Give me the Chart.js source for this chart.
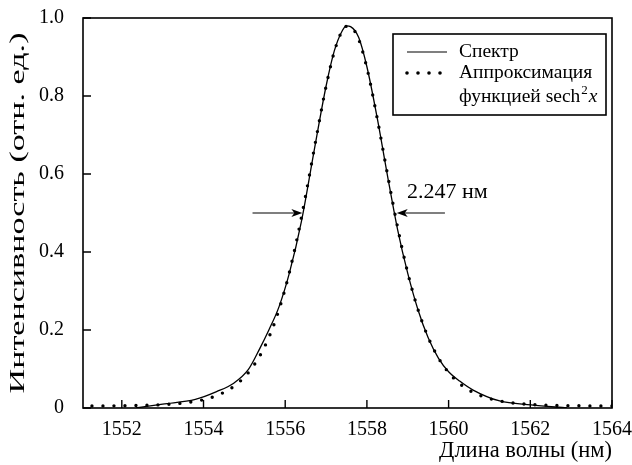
<!DOCTYPE html>
<html>
<head>
<meta charset="utf-8">
<script src="https://cdn.jsdelivr.net/npm/chart.js@4/dist/chart.umd.min.js"></script>
<style>
	html, body { margin: 0; padding: 0; background: #fff; }
</style>
</head>
<body>
<canvas id="spectrumChart" width="632" height="465"></canvas>
<script>
// measured spectrum (solid line)
const spectrumX = [1552.35, 1553.0, 1553.8, 1554.32, 1554.73, 1555.1, 1555.38, 1555.6, 1555.85, 1556.1, 1556.4, 1556.7, 1557.0, 1557.2, 1557.4, 1557.5, 1557.6, 1557.8, 1558.0, 1558.25, 1558.5, 1558.75, 1559.0, 1559.25, 1559.5, 1559.75, 1560.0, 1560.27, 1560.6, 1561.25, 1562.02, 1562.9];
const spectrumY = [0.0, 0.010, 0.022, 0.042, 0.063, 0.099, 0.153, 0.200, 0.260, 0.345, 0.480, 0.655, 0.825, 0.915, 0.968, 0.980, 0.978, 0.950, 0.875, 0.745, 0.598, 0.458, 0.345, 0.252, 0.180, 0.128, 0.093, 0.069, 0.046, 0.018, 0.008, 0.0];

// sech^2 approximation (dotted line)
const fitX = [1551.0, 1551.25, 1551.5, 1551.75, 1552.0, 1552.25, 1552.5, 1552.75, 1553.0, 1553.25, 1553.5, 1553.75, 1554.0, 1554.25, 1554.5, 1554.75, 1555.0, 1555.25, 1555.5, 1555.75, 1556.0, 1556.25, 1556.5, 1556.75, 1557.0, 1557.25, 1557.5, 1557.75, 1558.0, 1558.25, 1558.5, 1558.75, 1559.0, 1559.25, 1559.5, 1559.75, 1560.0, 1560.25, 1560.5, 1560.75, 1561.0, 1561.25, 1561.5, 1561.75, 1562.0, 1562.25, 1562.5, 1562.75, 1563.0, 1563.25, 1563.5, 1563.75, 1564.0];
const fitY = [0.0052, 0.0052, 0.0054, 0.0055, 0.0058, 0.0061, 0.0066, 0.0074, 0.0086, 0.0102, 0.0127, 0.0162, 0.0214, 0.0290, 0.0401, 0.0561, 0.0791, 0.1121, 0.1581, 0.2214, 0.3063, 0.4145, 0.5445, 0.6872, 0.8244, 0.9299, 0.9786, 0.9573, 0.8720, 0.7441, 0.6009, 0.4641, 0.3467, 0.2527, 0.1812, 0.1286, 0.0910, 0.0644, 0.0458, 0.0330, 0.0241, 0.0181, 0.0139, 0.0111, 0.0091, 0.0078, 0.0069, 0.0063, 0.0059, 0.0056, 0.0054, 0.0053, 0.0052];

const xTicks = [1552, 1554, 1556, 1558, 1560, 1562, 1564];
const yTicks = [0, 0.2, 0.4, 0.6, 0.8, 1.0];

const yTitle = "Интенсивность (отн. ед.)";

// FWHM marker: arrows at half maximum
const fwhmY = 0.5;
const fwhmLeft = [1555.2, 1556.42];
const fwhmRight = [1559.91, 1558.73];
const fwhmText = "2.247 нм";
const fwhmTextPos = [1558.98, 0.554];

const FONT = '"Liberation Serif", serif';

function arrow(ctx, x1, x2, y) {
	const dir = x2 > x1 ? 1 : -1;
	ctx.beginPath();
	ctx.moveTo(x1, y);
	ctx.lineTo(x2 - dir * 6, y);
	ctx.stroke();
	ctx.beginPath();
	ctx.moveTo(x2, y);
	ctx.lineTo(x2 - dir * 11, y - 4);
	ctx.lineTo(x2 - dir * 8, y);
	ctx.lineTo(x2 - dir * 11, y + 4);
	ctx.closePath();
	ctx.fill();
}

const decorPlugin = {
	id: "decor",
	afterDraw(chart) {
		const ctx = chart.ctx;
		const a = chart.chartArea;
		const xs = chart.scales.x;
		const ys = chart.scales.y;
		ctx.save();
		ctx.strokeStyle = "#000";
		ctx.fillStyle = "#000";

		// frame
		ctx.lineWidth = 1.6;
		ctx.strokeRect(a.left, a.top, a.right - a.left, a.bottom - a.top);

		// inner ticks
		ctx.lineWidth = 1.4;
		ctx.beginPath();
		xTicks.forEach(function (v) {
			const px = xs.getPixelForValue(v);
			ctx.moveTo(px, a.bottom);
			ctx.lineTo(px, a.bottom - 8);
		});
		yTicks.forEach(function (v) {
			const py = ys.getPixelForValue(v);
			ctx.moveTo(a.left, py);
			ctx.lineTo(a.left + 8, py);
		});
		ctx.stroke();

		// y axis title, stretched along the axis like the original
		ctx.save();
		ctx.translate(18, (a.top + a.bottom) / 2);
		ctx.rotate(-Math.PI / 2);
		ctx.scale(1.55, 1);
		ctx.font = "22px " + FONT;
		ctx.textAlign = "center";
		ctx.textBaseline = "middle";
		ctx.fillText(yTitle, 0, 0);
		ctx.restore();

		// FWHM arrows and label
		ctx.lineWidth = 1.2;
		const py = ys.getPixelForValue(fwhmY);
		arrow(ctx, xs.getPixelForValue(fwhmLeft[0]), xs.getPixelForValue(fwhmLeft[1]), py);
		arrow(ctx, xs.getPixelForValue(fwhmRight[0]), xs.getPixelForValue(fwhmRight[1]), py);
		ctx.font = "22px " + FONT;
		ctx.textBaseline = "middle";
		ctx.textAlign = "left";
		ctx.fillText(fwhmText, xs.getPixelForValue(fwhmTextPos[0]), ys.getPixelForValue(fwhmTextPos[1]));

		// legend
		const bx = a.right - 219, by = a.top + 16, bw = 213, bh = 81;
		ctx.fillStyle = "#fff";
		ctx.fillRect(bx, by, bw, bh);
		ctx.fillStyle = "#000";
		ctx.lineWidth = 1.6;
		ctx.strokeRect(bx, by, bw, bh);
		ctx.lineWidth = 1.2;
		ctx.beginPath();
		ctx.moveTo(bx + 14, by + 18);
		ctx.lineTo(bx + 54, by + 18);
		ctx.stroke();
		[14, 25, 36, 47].forEach(function (dx) {
			ctx.beginPath();
			ctx.arc(bx + dx, by + 39, 1.8, 0, Math.PI * 2);
			ctx.fill();
		});
		ctx.font = "19.5px " + FONT;
		const tx = bx + 66;
		ctx.fillText(chart.data.datasets[0].label, tx, by + 18);
		ctx.fillText(chart.data.datasets[1].label, tx, by + 39);
		const l3 = "функцией sech";
		ctx.fillText(l3, tx, by + 63);
		let w = ctx.measureText(l3).width;
		ctx.font = "13px " + FONT;
		ctx.fillText("2", tx + w + 1, by + 57);
		w += ctx.measureText("2").width + 2;
		ctx.font = "italic 19.5px " + FONT;
		ctx.fillText("x", tx + w, by + 63);
		ctx.restore();
	},
};

function drawChart() {
	const ctx = document.getElementById("spectrumChart").getContext("2d");

	new Chart(ctx, {
		type: "line",
		data: {
			datasets: [
				{
					label: "Спектр",
					data: spectrumX.map((x, i) => ({ x: x, y: spectrumY[i] })),
					borderColor: "#000",
					borderWidth: 1.3,
					pointRadius: 0,
					cubicInterpolationMode: "monotone",
				},
				{
					label: "Аппроксимация",
					data: fitX.map((x, i) => ({ x: x, y: fitY[i] })),
					borderColor: "#000",
					borderWidth: 3.4,
					borderDash: [0, 11],
					borderCapStyle: "round",
					pointRadius: 0,
					cubicInterpolationMode: "monotone",
				},
			],
		},
		options: {
			responsive: false,
			animation: false,
			layout: { padding: { left: 0, right: 20, top: 18, bottom: 0 } },
			plugins: {
				legend: { display: false },
				tooltip: { enabled: false },
			},
			scales: {
				x: {
					type: "linear",
					min: 1551.05,
					max: 1564,
					afterBuildTicks: (s) => { s.ticks = xTicks.map((v) => ({ value: v })); },
					afterFit: (s) => {
						s.height = 57;
						s.paddingLeft = 0;
						s.paddingRight = 0;
					},
					grid: { display: false },
					border: { display: false },
					ticks: {
						color: "#000",
						padding: 2,
						maxRotation: 0,
						font: { family: FONT, size: 20 },
						callback: (v) => String(v),
					},
					title: {
						display: true,
						text: "Длина волны (нм)",
						align: "end",
						color: "#000",
						font: { family: FONT, size: 22.5 },
						padding: { top: 0, bottom: 0 },
					},
				},
				y: {
					min: 0,
					max: 1,
					afterBuildTicks: (s) => { s.ticks = yTicks.map((v) => ({ value: v })); },
					afterFit: (s) => {
						s.width = 83;
						s.paddingTop = 0;
						s.paddingBottom = 0;
					},
					grid: { display: false },
					border: { display: false },
					ticks: {
						color: "#000",
						padding: 11,
						font: { family: FONT, size: 20 },
						callback: (v) => (v === 0 ? "0" : v.toFixed(1)),
					},
				},
			},
		},
		plugins: [decorPlugin],
	});
}

document.fonts.load('20px "Liberation Serif"', "Длина 1552").then(drawChart, drawChart);
</script>
</body>
</html>
